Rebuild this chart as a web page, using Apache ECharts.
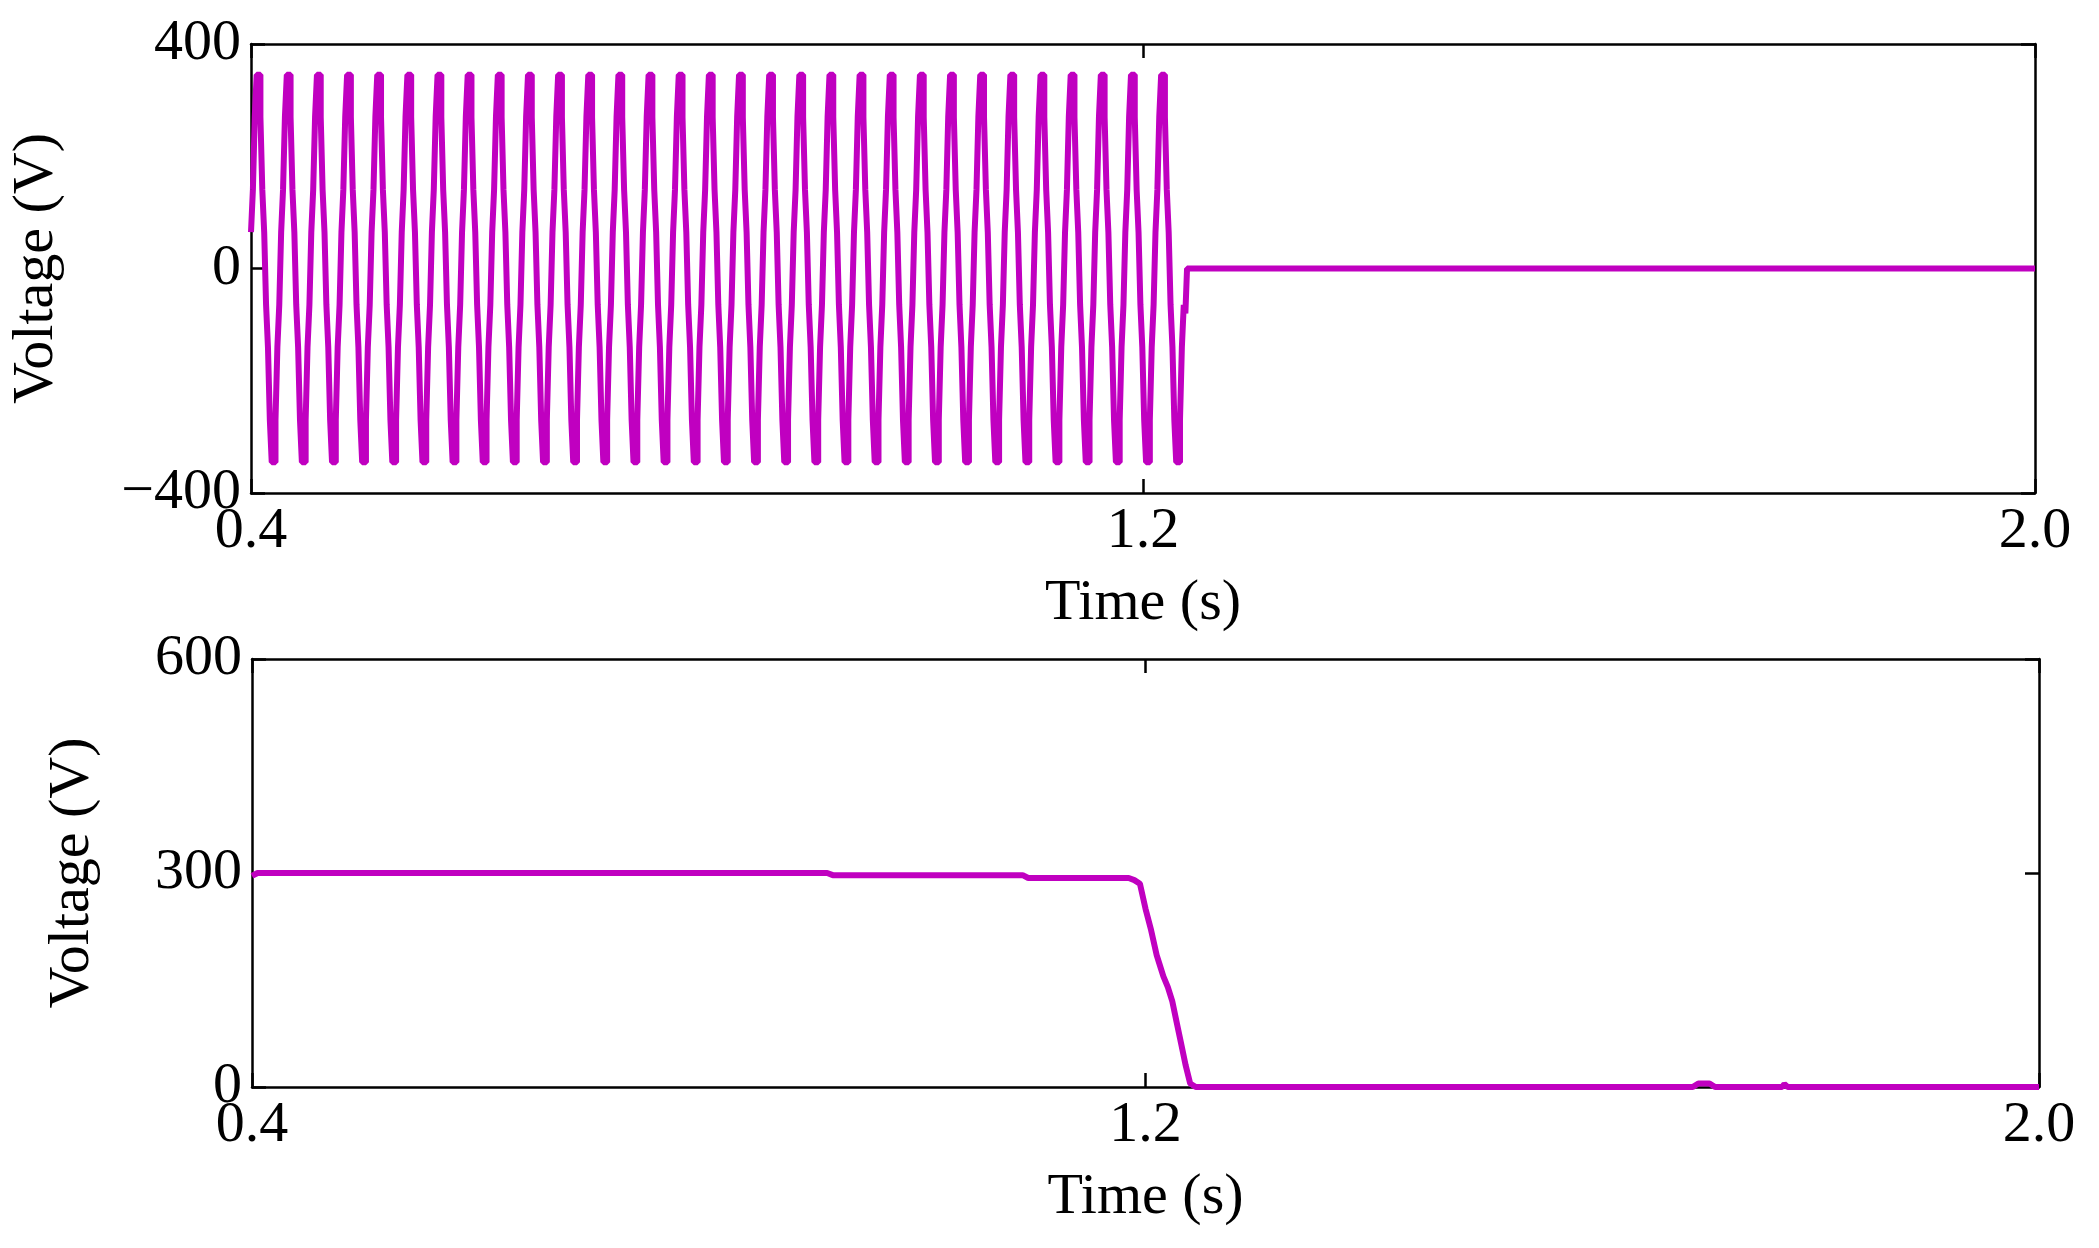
<!DOCTYPE html>
<html><head><meta charset="utf-8">
<script src="https://cdn.jsdelivr.net/npm/echarts@6/dist/echarts.min.js"></script>
<style>html,body{margin:0;background:#fff}#c{width:2099px;height:1248px}</style>
</head><body><div id="c"></div>
<script>
// top panel: stepped inverter voltage, step levels (V) of one cycle, repeated
var stepLevels = [65, 140, 270, 345, 345, 270, 140, 65, -65, -140, -270, -345, -345, -270, -140, -65];
var stepDur = 0.00169;
var tStart = 0.4, tOff = 1.238;
var tailTimes = [1.238, 1.2395, 1.2395, 2.0];
var tailVals = [-80, -80, 0, 0];

// bottom panel: dc voltage (time s, V)
var dcTimes = [0.4, 0.405, 0.915, 0.92, 1.09, 1.095, 1.185, 1.19, 1.195, 1.2, 1.205, 1.21, 1.213, 1.216, 1.22, 1.224, 1.228, 1.232, 1.236, 1.24, 1.245, 1.69, 1.695, 1.705, 1.71, 1.77, 1.772, 1.775, 2.0];
var dcVals  = [296, 300, 300, 297, 297, 293, 293, 290, 285, 250, 220, 185, 170, 155, 140, 120, 90, 60, 30, 5, 0, 0, 5, 5, 0, 0, 4, 0, 0];

var acData = [];
var k = 0;
for (var t = tStart; t < tOff; t += stepDur) {
  acData.push([t, stepLevels[k % stepLevels.length]]);
  k++;
}
for (var i = 0; i < tailTimes.length; i++) acData.push([tailTimes[i], tailVals[i]]);
var dcData = dcTimes.map(function (t, i) { return [t, dcVals[i]]; });

var font = 'Liberation Serif';
var col = '#c000c0';
var lbl = {color: '#000', fontFamily: font, fontSize: 58};
function xAx(g, main) {
  return {type: 'value', gridIndex: g, min: 0.4, max: 2.0, interval: 0.8, position: main ? 'bottom' : 'top',
    name: main ? 'Time (s)' : '', nameLocation: 'middle', nameGap: 82,
    nameTextStyle: {color: '#000', fontFamily: font, fontSize: 58},
    axisLine: {show: true, onZero: false, lineStyle: {color: '#000', width: 2.5}},
    axisTick: {show: true, inside: true, length: 14, lineStyle: {color: '#000', width: 2.5}},
    axisLabel: main ? Object.assign({margin: 10, formatter: function (v) { return v.toFixed(1); }}, lbl) : {show: false},
    splitLine: {show: false}};
}
function yAx(g, main, min, max, iv) {
  return {type: 'value', gridIndex: g, min: min, max: max, interval: iv, position: main ? 'left' : 'right',
    name: main ? 'Voltage (V)' : '', nameLocation: 'middle', nameGap: g ? 150 : 185,
    nameTextStyle: {color: '#000', fontFamily: font, fontSize: 58},
    axisLine: {show: true, onZero: false, lineStyle: {color: '#000', width: 2.5}},
    axisTick: {show: true, inside: true, length: 14, lineStyle: {color: '#000', width: 2.5}},
    axisLabel: main ? Object.assign({margin: 10, formatter: function (v) { return v < 0 ? '\u2212' + (-v) : v; }}, lbl) : {show: false},
    splitLine: {show: false}};
}
var opts = {
  backgroundColor: '#fff',
  animation: false,
  grid: [
    {left: 248, right: 64, top: 44, height: 449},
    {left: 252, right: 60, top: 659, height: 428}
  ],
  xAxis: [xAx(0, true), xAx(0, false), xAx(1, true), xAx(1, false)],
  yAxis: [yAx(0, true, -400, 400, 400), yAx(0, false, -400, 400, 400), yAx(1, true, 0, 600, 300), yAx(1, false, 0, 600, 300)],
  series: [
    {type: 'line', xAxisIndex: 0, yAxisIndex: 0, step: 'end', data: acData, showSymbol: false,
     lineStyle: {color: col, width: 6}},
    {type: 'line', xAxisIndex: 2, yAxisIndex: 2, data: dcData, showSymbol: false,
     lineStyle: {color: col, width: 6}}
  ]
};
echarts.init(document.getElementById('c')).setOption(opts);
</script></body></html>
